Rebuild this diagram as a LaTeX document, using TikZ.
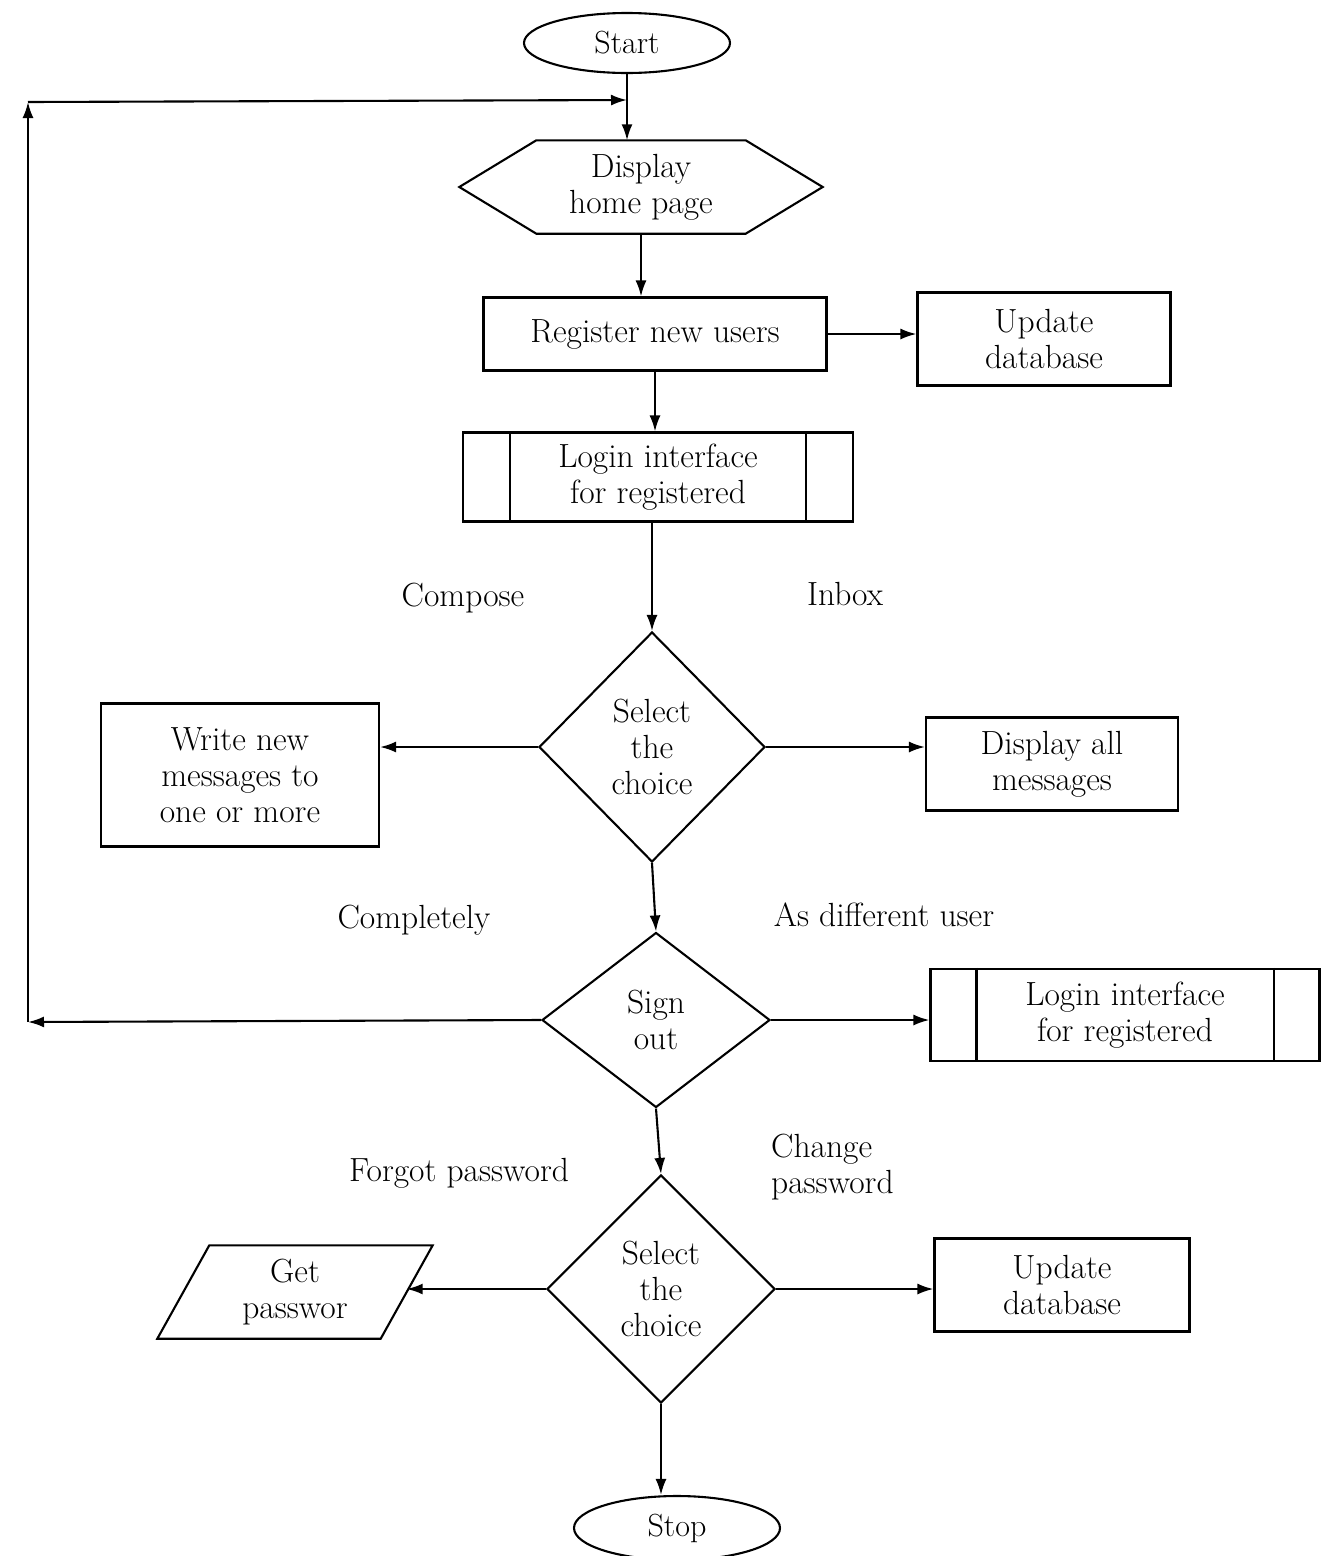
\documentclass[tikz,border=0pt]{standalone}
\usetikzlibrary{shapes.geometric,arrows.meta}
\begin{document}
\begin{tikzpicture}[x=1pt,y=-1pt,
  every node/.style={font=\fontsize{33.5}{36}\selectfont},
  line/.style={line width=2.1pt},
  arr/.style={line width=2.1pt,-{Latex[length=16pt,width=11pt]}},
  procbox/.style={draw,line width=2.1pt,rectangle,inner sep=0pt,align=center},
  plain/.style={rectangle,inner sep=0pt,align=center},
  terminal/.style={draw,line width=2.1pt,ellipse,inner sep=0pt,font=\fontsize{32}{34}\selectfont},
  decision/.style={draw,line width=2.1pt,diamond,inner sep=0pt,align=center,aspect=1},
  lbl/.style={inner sep=0pt,align=left}
]
\useasboundingbox (0,0) rectangle (1321,1556);

% terminals
\node[terminal,minimum width=206,minimum height=60] (start) at (627,43) {Start};
\node[terminal,minimum width=206,minimum height=64] (stop) at (677,1528) {Stop};

% hexagon (display)
\node[plain,minimum width=363,minimum height=93] (home) at (641,187) {Display\\home page};
\draw[line] (home.west) -- ([xshift=77]home.north west) -- ([xshift=-77]home.north east)
  -- (home.east) -- ([xshift=-77]home.south east) -- ([xshift=77]home.south west) -- cycle;

% process boxes
\node[procbox,minimum width=343,minimum height=73] (reg) at (655,334) {Register new users};
\node[procbox,minimum width=253,minimum height=93] (upd1) at (1044,339) {Update\\database};
\node[procbox,minimum width=390,minimum height=89] (login1) at (658,477) {Login interface\\for registered};
\draw[line] ([xshift=48]login1.north west) -- ([xshift=48]login1.south west);
\draw[line] ([xshift=-48]login1.north east) -- ([xshift=-48]login1.south east);

\node[procbox,minimum width=278,minimum height=143] (write) at (240,775) {Write new\\messages to\\one or more};
\node[procbox,minimum width=252,minimum height=93] (disp) at (1052,764) {Display all\\messages};

\node[procbox,minimum width=389,minimum height=92] (login2) at (1125,1015) {Login interface\\for registered};
\draw[line] ([xshift=47]login2.north west) -- ([xshift=47]login2.south west);
\draw[line] ([xshift=-47]login2.north east) -- ([xshift=-47]login2.south east);

\node[procbox,minimum width=255,minimum height=93] (upd2) at (1062,1285) {Update\\database};

% parallelogram (get password)
\node[plain,minimum width=275,minimum height=93] (getpw) at (295,1292) {Get\\passwor};
\draw[line] ([xshift=52]getpw.north west) -- (getpw.north east)
  -- ([xshift=-52]getpw.south east) -- (getpw.south west) -- cycle;
\coordinate (getpwR) at ([xshift=-26]getpw.east);

% decisions
\node[decision,minimum width=226,minimum height=230] (d1) at (652,747) {Select\\the\\choice};
\node[decision,minimum width=228,minimum height=175] (signout) at (656,1020) {Sign\\out};
\node[decision,minimum width=228,minimum height=228] (d3) at (661,1289) {Select\\the\\choice};

% branch labels
\node[lbl] (lcompose) at (463,598) {Compose};
\node[lbl] (linbox) at (845,594) {Inbox};
\node[lbl] (lcomplete) at (414,920) {Completely};
\node[lbl] (ldiff) at (884,915) {As different user};
\node[lbl] (lforgot) at (459,1173) {Forgot password};
\node[lbl,anchor=west] (lchange) at (771,1167) {Change\\password};

% feedback route
\coordinate (join) at (627,100);
\coordinate (fbl) at (28,1022);
\coordinate (fbt) at (28,102);

% main flow
\draw[arr] (start.south) -- (start.south |- home.north);
\draw[arr] (home.south) -- (home.south |- reg.north);
\draw[arr] (reg.east) -- (reg.east -| upd1.west);
\draw[arr] (reg.south) -- (reg.south |- login1.north);
\draw[arr] (d1.north |- login1.south) -- (d1.north);
\draw[arr] (d1.west) -- (d1.west -| write.east);
\draw[arr] (d1.east) -- (d1.east -| disp.west);
\draw[arr] (d1.south) -- (signout.north);
\draw[arr] (signout.east) -- (signout.east -| login2.west);
\draw[arr] (signout.south) -- (d3.north);
\draw[arr] (d3.west) -- (d3.west -| getpwR);
\draw[arr] (d3.east) -- (d3.east -| upd2.west);
\draw[arr] (d3.south) -- (d3.south |- stop.north);

% return to home page
\draw[arr] (signout.west) -- (fbl);
\draw[arr] (fbl) -- (fbt);
\draw[arr] (fbt) -- (join);
\end{tikzpicture}
\end{document}
